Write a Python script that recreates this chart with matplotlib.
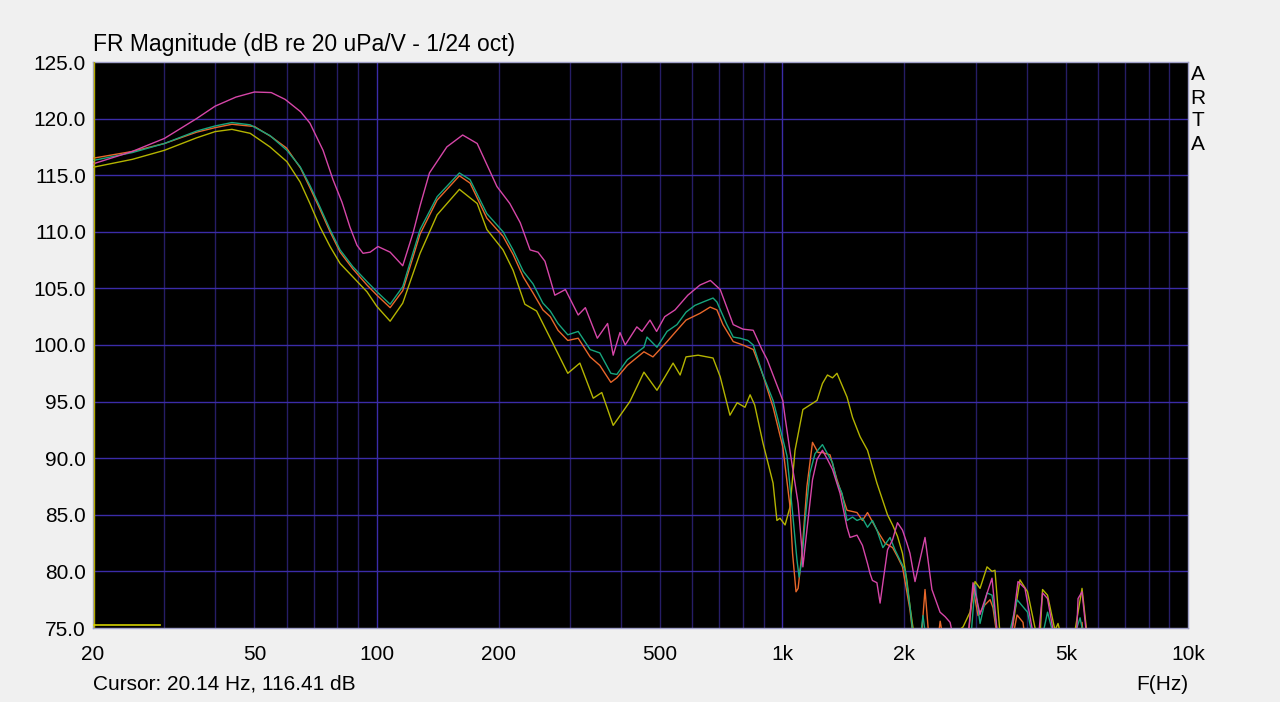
import matplotlib
matplotlib.use("Agg")
import matplotlib.pyplot as plt
from matplotlib.ticker import FixedLocator, NullFormatter

plt.rcParams['font.family'] = ['Liberation Sans', 'DejaVu Sans']

# --- data (frequency in Hz, level in dB) ---
magenta_f = [20, 25, 30, 36, 40, 45, 50, 55, 59.5, 65, 68.5, 73.8, 78.1, 82.2, 86, 89.5, 92.6, 96.4,
             100.8, 108, 116, 123, 128, 135, 149, 163, 177, 198, 213, 226, 239, 250, 260, 268, 275,
             292, 314, 327, 350, 371, 383, 398, 410, 438, 451, 472, 490, 513, 544, 585, 627, 665,
             703, 757, 800, 848, 891, 918, 1003, 1016, 1045, 1094, 1118, 1124, 1150, 1187, 1218,
             1256, 1292, 1330, 1388, 1444, 1469, 1528, 1576, 1622, 1646, 1668, 1711, 1742, 1770,
             1817, 1870, 1923, 1978, 2028, 2064, 2124, 2248, 2338, 2448, 2520, 2592, 2680, 2850,
             2952, 3072, 3288, 3420, 3600, 3810, 3964, 4150, 4250, 4380, 4506, 4650, 4900, 5300,
             5358, 5480, 5636, 6000, 10000]
magenta_db = [116.0, 117.1, 118.25, 120.0, 121.1, 121.9, 122.35, 122.3, 121.7, 120.6, 119.6, 117.2,
              114.6, 112.6, 110.4, 108.8, 108.1, 108.2, 108.7, 108.2, 107.0, 109.9, 112.3, 115.2,
              117.5, 118.55, 117.8, 114.0, 112.5, 110.8, 108.4, 108.2, 107.4, 105.8, 104.4, 104.9,
              102.65, 103.3, 100.6, 101.9, 99.1, 101.1, 100.0, 101.6, 101.2, 102.2, 101.2, 102.5,
              103.1, 104.4, 105.3, 105.7, 104.9, 101.8, 101.4, 101.3, 99.6, 98.7, 95.1, 93.6, 90.6,
              86.0, 81.9, 80.4, 83.65, 88.1, 89.9, 90.7, 89.9, 89.0, 86.9, 83.9, 83.0, 83.2, 82.3,
              80.7, 79.8, 79.2, 79.0, 77.2, 79.0, 81.9, 82.8, 84.3, 83.65, 82.5, 81.6, 79.1, 83.0,
              78.4, 76.4, 76.0, 75.5, 73.0, 73.0, 79.0, 76.2, 79.4, 73.0, 72.0, 79.1, 78.5, 74.5,
              73.0, 78.1, 77.6, 74.8, 72.0, 73.5, 77.6, 78.2, 74.0, 70.0, 60.0]

green_f = [20, 25, 30, 36, 40, 44, 48.8, 54.6, 60.1, 64.8, 68.5, 72.5, 76.8, 81.3, 87.5, 94.7, 100.2,
           108, 116, 128, 141, 160, 170, 187, 205, 217, 230, 243, 257, 268, 280, 296, 314, 336,
           355, 378, 391, 415, 456, 464, 491, 520, 550, 579, 609, 638, 675, 690, 730, 757, 787,
           823, 848, 896, 949, 976, 1027, 1060, 1087, 1100, 1118, 1138, 1170, 1204, 1256, 1292,
           1330, 1364, 1404, 1444, 1490, 1528, 1576, 1622, 1668, 1711, 1770, 1843, 1896, 1950,
           2007, 2064, 2120, 2180, 2222, 2280, 2900, 2986, 3072, 3196, 3288, 3392, 3500, 3790,
           4022, 4150, 4300, 4506, 4650, 5000, 5420, 5550, 6000, 10000]
green_db = [116.3, 117.0, 117.8, 118.9, 119.35, 119.65, 119.45, 118.5, 117.2, 115.75, 114.1, 112.2,
            110.2, 108.4, 106.9, 105.6, 104.7, 103.6, 105.15, 110.2, 113.1, 115.2, 114.6, 111.6,
            110.0, 108.4, 106.5, 105.4, 103.7, 103.0, 101.9, 100.9, 101.2, 99.6, 99.3, 97.5, 97.4,
            98.7, 99.8, 100.7, 99.8, 101.2, 101.8, 102.9, 103.5, 103.8, 104.15, 103.8, 101.8,
            100.7, 100.6, 100.4, 100.0, 97.35, 95.1, 93.4, 90.2, 85.2, 81.0, 79.5, 81.0, 84.5,
            88.7, 90.4, 91.2, 90.4, 89.6, 87.9, 86.9, 84.5, 84.8, 84.5, 84.7, 83.9, 84.5, 83.65,
            82.1, 83.0, 81.9, 81.0, 80.1, 76.9, 73.0, 73.5, 76.1, 73.0, 73.0, 78.8, 75.4, 78.1,
            77.9, 74.5, 72.0, 77.5, 76.4, 74.0, 73.0, 76.4, 74.5, 72.0, 75.9, 74.0, 70.0, 60.0]

orange_f = [20, 25, 30, 36, 40, 44, 50, 55, 60, 65, 68.5, 72.5, 76.8, 81.3, 87.5, 94.7, 100.2, 108,
            116, 128, 141, 160, 170, 187, 205, 217, 230, 243, 257, 268, 280, 296, 314, 336, 355,
            378, 391, 415, 456, 480, 520, 550, 579, 627, 664, 690, 714, 757, 800, 848, 896, 949,
            1003, 1045, 1060, 1081, 1094, 1118, 1150, 1187, 1225, 1256, 1311, 1364, 1444, 1528,
            1576, 1622, 1711, 1791, 1870, 1923, 1978, 2064, 2120, 2200, 2248, 2300, 2400, 2450,
            2520, 2850, 2952, 3038, 3150, 3252, 3306, 3392, 3600, 3790, 3920, 4000, 5000, 5420,
            5480, 5560, 10000]
orange_db = [116.5, 117.1, 117.8, 118.8, 119.2, 119.5, 119.3, 118.4, 117.4, 115.6, 113.9, 112.0,
             110.0, 108.2, 106.7, 105.3, 104.4, 103.3, 104.8, 109.8, 112.8, 114.95, 114.3, 111.2,
             109.6, 108.0, 106.0, 104.6, 103.1, 102.5, 101.3, 100.4, 100.6, 98.95, 98.2, 96.7,
             97.1, 98.2, 99.4, 98.95, 100.3, 101.3, 102.2, 102.8, 103.35, 103.1, 101.8, 100.3,
             100.0, 99.6, 97.35, 94.5, 91.0, 85.7, 81.6, 78.2, 78.5, 81.6, 87.5, 91.4, 90.5, 90.5,
             90.3, 88.1, 85.4, 85.2, 84.5, 85.2, 83.65, 82.5, 82.1, 81.3, 80.4, 76.6, 73.0, 74.0,
             78.4, 74.0, 73.0, 75.6, 73.0, 73.0, 78.5, 76.1, 77.0, 77.5, 76.8, 74.0, 72.0, 76.15,
             75.5, 73.0, 72.0, 73.0, 75.5, 73.0, 60.0]

yellow_f = [20, 25, 30, 36, 40, 44, 48.8, 54.6, 60.1, 64.8, 68.5, 72.5, 76.8, 81.3, 87.5, 94.7, 100.2,
            108, 116, 128, 141, 160, 177, 187, 205, 217, 232, 248, 268, 296, 317, 342, 359, 383,
            421, 456, 491, 538, 560, 579, 620, 675, 703, 743, 774, 809, 833, 855, 896, 949, 970,
            987, 1016, 1045, 1075, 1124, 1170, 1218, 1256, 1292, 1330, 1364, 1444, 1490, 1555,
            1622, 1711, 1817, 1870, 1923, 1978, 2028, 2064, 2100, 2200, 2790, 2902, 2986, 3072,
            3196, 3288, 3344, 3440, 3550, 3684, 3854, 4022, 4198, 4300, 4380, 4506, 4700, 4782,
            4850, 5268, 5480, 5636, 6000, 10000]
yellow_db = [115.7, 116.4, 117.2, 118.3, 118.85, 119.05, 118.7, 117.5, 116.2, 114.4, 112.5, 110.45,
             108.7, 107.2, 106.0, 104.7, 103.4, 102.1, 103.7, 108.1, 111.5, 113.75, 112.5, 110.2,
             108.4, 106.6, 103.6, 103.0, 100.6, 97.5, 98.4, 95.3, 95.8, 92.9, 95.0, 97.6, 96.0,
             98.4, 97.35, 98.95, 99.1, 98.85, 97.2, 93.8, 94.9, 94.5, 95.6, 94.7, 91.35, 87.8,
             84.5, 84.7, 84.1, 85.7, 90.7, 94.3, 94.7, 95.1, 96.6, 97.35, 97.1, 97.5, 95.4, 93.6,
             91.9, 90.7, 87.8, 85.0, 84.1, 83.1, 81.6, 79.2, 76.9, 75.0, 72.0, 75.1, 76.4, 79.1,
             78.5, 80.4, 80.0, 80.1, 74.5, 72.0, 74.8, 79.25, 78.2, 75.0, 73.0, 78.4, 77.9, 74.8,
             75.4, 74.5, 74.8, 78.5, 74.5, 70.0, 60.0]

xticks = [20, 50, 100, 200, 500, 1000, 2000, 5000, 10000]
xticklabels = ['20', '50', '100', '200', '500', '1k', '2k', '5k', '10k']
yticks = [75, 80, 85, 90, 95, 100, 105, 110, 115, 120, 125]
minor_f = [30, 40, 50, 60, 70, 80, 90, 200, 300, 400, 500, 600, 700, 800, 900,
           2000, 3000, 4000, 5000, 6000, 7000, 8000, 9000]
cursor_f = 20.14
cursor_db = 116.41

fig = plt.figure(figsize=(12.8, 7.02), dpi=100, facecolor='#f0f0f0')
ax = fig.add_axes([93 / 1280, 74 / 702, 1095 / 1280, 566 / 702])
ax.set_facecolor('black')
ax.set_xscale('log')
ax.set_xlim(20, 10000)
ax.set_ylim(75, 125)

# grid: dim minor verticals, brighter decade and 5 dB lines
for f in minor_f:
    ax.axvline(f, color='#261d66', lw=1.0, zorder=1)
for f in [100, 1000]:
    ax.axvline(f, color='#3b2ca8', lw=1.0, zorder=1)
for y in yticks[1:-1]:
    ax.axhline(y, color='#3b2ca8', lw=1.0, zorder=1)

ax.plot(yellow_f, yellow_db, color='#b4b400', lw=1.0, zorder=3)
ax.plot(orange_f, orange_db, color='#e8672a', lw=1.0, zorder=4)
ax.plot(green_f, green_db, color='#17a57e', lw=1.0, zorder=5)
ax.plot(magenta_f, magenta_db, color='#d646a8', lw=1.0, zorder=6)

# cursor markers
ax.axvline(cursor_f, color='#b4aa00', lw=1.0, zorder=7)
ax.plot([20, 29.2], [75.25, 75.25], color='#d4d000', lw=1.2, zorder=7)

ax.xaxis.set_major_locator(FixedLocator(xticks))
ax.xaxis.set_minor_formatter(NullFormatter())
ax.set_xticks(xticks)
ax.set_xticklabels(xticklabels)
ax.set_yticks(yticks)
ax.set_yticklabels(['%.1f' % v for v in yticks])
ax.tick_params(axis='both', which='both', length=0, labelsize=15, colors='black')
ax.tick_params(axis='x', pad=12)
ax.tick_params(axis='y', pad=5)
for s in ax.spines.values():
    s.set_color('#a0a0c8')
    s.set_linewidth(1.0)

fig.text(93 / 1280, 1 - 44 / 702, 'FR Magnitude (dB re 20 uPa/V - 1/24 oct)',
         fontsize=16.5, ha='left', va='center')
fig.text(93 / 1280, 1 - 684 / 702, 'Cursor: %.2f Hz, %.2f dB' % (cursor_f, cursor_db),
         fontsize=15, ha='left', va='center')
fig.text(1188 / 1280, 1 - 684 / 702, 'F(Hz)', fontsize=15, ha='right', va='center')
for i, ch in enumerate('ARTA'):
    fig.text(1198 / 1280, 1 - (75 + 23 * i) / 702, ch, fontsize=15, ha='center', va='center')

fig.savefig('out.png', dpi=100, facecolor=fig.get_facecolor())
